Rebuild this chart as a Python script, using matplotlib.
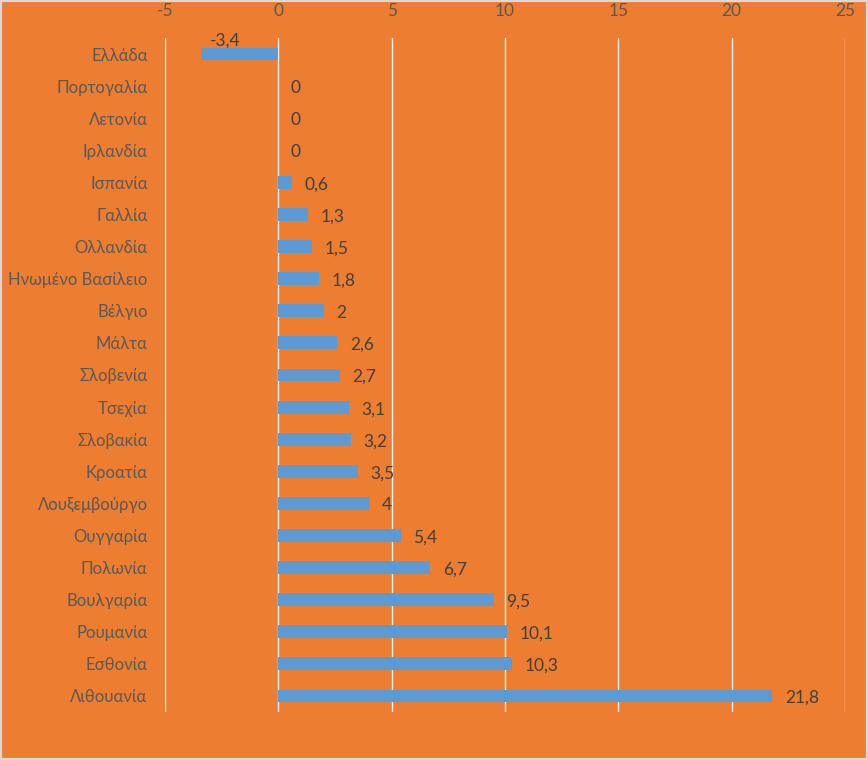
import matplotlib
matplotlib.use("Agg")
import matplotlib.pyplot as plt
from matplotlib.patches import Rectangle

countries = ["Ελλάδα", "Πορτογαλία", "Λετονία", "Ιρλανδία", "Ισπανία", "Γαλλία",
             "Ολλανδία", "Ηνωμένο Βασίλειο", "Βέλγιο", "Μάλτα", "Σλοβενία", "Τσεχία",
             "Σλοβακία", "Κροατία", "Λουξεμβούργο", "Ουγγαρία", "Πολωνία", "Βουλγαρία",
             "Ρουμανία", "Εσθονία", "Λιθουανία"]
values = [-3.4, 0, 0, 0, 0.6, 1.3, 1.5, 1.8, 2, 2.6, 2.7, 3.1, 3.2, 3.5, 4,
          5.4, 6.7, 9.5, 10.1, 10.3, 21.8]
xticks = [-5, 0, 5, 10, 15, 20, 25]

plt.rcParams['font.family'] = ['Lato', 'DejaVu Sans']
bg = '#ED7D31'
bar_c = '#5B9BD5'
txt = '#404040'

fig = plt.figure(figsize=(8.68, 7.6), dpi=100, facecolor=bg)
ax = fig.add_axes([165/868, 1-712/760, 680/868, 674/760])
ax.set_facecolor(bg)

y = list(range(len(countries)))
ax.barh(y, values, height=0.4, color=bar_c, zorder=3)
ax.set_ylim(len(countries)-0.5, -0.5)
ax.set_xlim(-5, 25)
ax.set_xticks(xticks)
ax.set_xticklabels([str(t) for t in xticks])
ax.xaxis.tick_top()
ax.set_yticks(y)
ax.set_yticklabels(countries)
ax.tick_params(axis='x', length=0, pad=14, labelsize=12.5, colors='#595959')
ax.tick_params(axis='y', length=0, pad=12.5, labelsize=12, colors='#595959')
for s in ax.spines.values():
    s.set_visible(False)
ax.grid(axis='x', color='#F2F2F2', linewidth=1, zorder=1)

def fmt(v):
    return ('%g' % v).replace('.', ',')

for yi, v in zip(y, values):
    if v < 0:
        ax.annotate(fmt(v), (v, yi), xytext=(6, 10), textcoords='offset points',
                    ha='left', va='center', fontsize=12.5, color=txt)
    else:
        ax.annotate(fmt(v), (v, yi), xytext=(9, -1.5), textcoords='offset points',
                    ha='left', va='center', fontsize=12.5, color=txt)

fig.patches.append(Rectangle((0, 0), 1, 1, transform=fig.transFigure, fill=False,
                             edgecolor='#D9D9D9', linewidth=3))
fig.savefig('out.png', dpi=100, facecolor=bg)
